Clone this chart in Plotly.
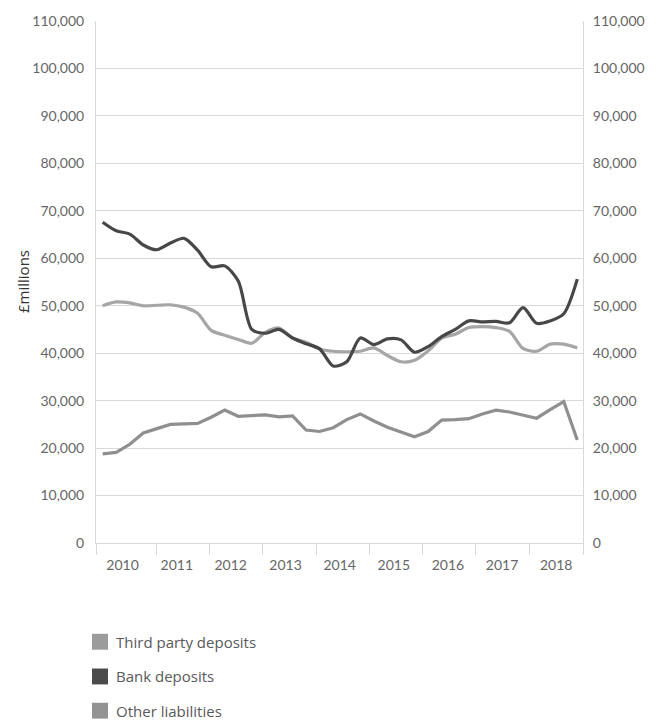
import plotly.graph_objects as go

# Quarterly balances, 2010 Q1 - 2018 Q4 (GBP millions)
quarters = [f"{y} Q{q}" for y in range(2010, 2019) for q in range(1, 5)]
years = ["2010", "2011", "2012", "2013", "2014", "2015", "2016", "2017", "2018"]

third_party = [50000, 50800, 50600, 50000, 50100, 50200, 49700, 48400, 44800, 43800,
               42900, 42100, 44400, 45300, 43200, 42300, 40900, 40400, 40300, 40400,
               41100, 39500, 38200, 38500, 40500, 43200, 44000, 45400, 45600, 45400,
               44600, 41000, 40400, 41900, 41900, 41100]

bank = [67600, 65800, 65100, 62800, 61800, 63200, 64200, 61700, 58200, 58400,
        55200, 45000, 44200, 45000, 43200, 42000, 40900, 37300, 38200, 43200,
        41800, 43000, 42800, 40200, 41400, 43500, 45000, 46800, 46600, 46700,
        46400, 49600, 46300, 46800, 48300, 55600]

other = [18800, 19100, 20800, 23200, 24100, 25000, 25100, 25200, 26500, 28000,
         26700, 26800, 27000, 26600, 26800, 23800, 23500, 24300, 26000, 27200,
         25700, 24400, 23400, 22400, 23500, 25900, 26000, 26200, 27200, 28000,
         27600, 27000, 26300, 28100, 29800, 21700]

series_names = ["Third party deposits", "Bank deposits", "Other liabilities"]
line_colors = ["#a6a6a6", "#474747", "#8f8f8f"]
legend_colors = ["#9c9c9c", "#4a4a4a", "#939393"]

x = list(range(len(quarters)))

# year boundaries and year label positions along the quarter index
year_edges = [-0.49, 3.97, 7.90, 11.82, 15.75, 19.67, 23.59, 27.52, 31.44, 35.42]
year_label_pos = [1.47, 5.47, 9.44, 13.49, 17.48, 21.47, 25.46, 29.45, 33.44]

W, H = 666, 726
M_L, M_R, M_T, M_B = 96, 83, 17, 183
PLOT_W, PLOT_H = W - M_L - M_R, H - M_T - M_B


def paper_x(px):
    return (px - M_L) / PLOT_W


def paper_y(py):
    return (H - M_B - py) / PLOT_H


grid = "#d9d9d9"
tick_font = dict(family="Lato", size=14, color="#666666")

fig = go.Figure()

for name, vals, col, shape in [
    (series_names[0], third_party, line_colors[0], "spline"),
    (series_names[1], bank, line_colors[1], "spline"),
    (series_names[2], other, line_colors[2], "linear"),
]:
    fig.add_trace(go.Scatter(
        x=x, y=vals, mode="lines", name=name, customdata=quarters,
        line=dict(color=col, width=3.2, shape=shape, smoothing=0.8),
        hovertemplate="%{customdata}: %{y:,}<extra>" + name + "</extra>",
    ))

# keeps the right-hand axis drawn
fig.add_trace(go.Scatter(x=[None], y=[None], yaxis="y2", hoverinfo="skip"))

# legend below the chart: square swatch + label per series
shapes, annotations = [], []
row_centres = [642.5, 677.5, 712]
for name, col, cy in zip(series_names, legend_colors, row_centres):
    shapes.append(dict(
        type="rect", xref="paper", yref="paper", layer="above",
        x0=paper_x(92), x1=paper_x(108), y0=paper_y(cy + 8), y1=paper_y(cy - 8),
        fillcolor=col, line=dict(width=0),
    ))
    annotations.append(dict(
        text=name, x=paper_x(114), xref="paper", xanchor="left",
        y=paper_y(cy), yref="paper", yanchor="middle", showarrow=False,
        font=dict(family="Open Sans", size=15, color="#595959"),
    ))

annotations.append(dict(
    text="£millions", textangle=-90, x=paper_x(23), xref="paper", xanchor="center",
    y=paper_y(280), yref="paper", yanchor="middle", showarrow=False,
    font=dict(family="Open Sans", size=15, color="#333333"),
))

fig.update_layout(
    width=W, height=H,
    margin=dict(l=M_L, r=M_R, t=M_T, b=M_B),
    paper_bgcolor="white", plot_bgcolor="white",
    showlegend=False,
    xaxis=dict(
        range=[year_edges[0], year_edges[-1]],
        tickmode="array", tickvals=year_label_pos, ticktext=years,
        ticks="outside", ticklen=9, tickcolor="rgba(0,0,0,0)", tickfont=tick_font,
        showgrid=False, zeroline=False,
        showline=True, linecolor=grid, linewidth=1,
        minor=dict(tickmode="array", tickvals=year_edges, ticks="outside",
                   ticklen=11, tickcolor=grid, tickwidth=1, showgrid=False),
    ),
    yaxis=dict(
        range=[0, 110000], tickmode="array",
        tickvals=list(range(0, 110001, 10000)), tickformat=",",
        tickfont=tick_font, ticks="", ticklabelstandoff=8,
        showgrid=True, gridcolor=grid, gridwidth=1, zeroline=False,
        showline=True, linecolor=grid, linewidth=1,
    ),
    yaxis2=dict(
        range=[0, 110000], overlaying="y", side="right", tickmode="array",
        tickvals=list(range(0, 110001, 10000)), tickformat=",",
        tickfont=tick_font, ticks="", ticklabelstandoff=6,
        showgrid=False, zeroline=False,
        showline=True, linecolor=grid, linewidth=1,
    ),
    shapes=shapes,
    annotations=annotations,
)

fig.write_html("out.html")
